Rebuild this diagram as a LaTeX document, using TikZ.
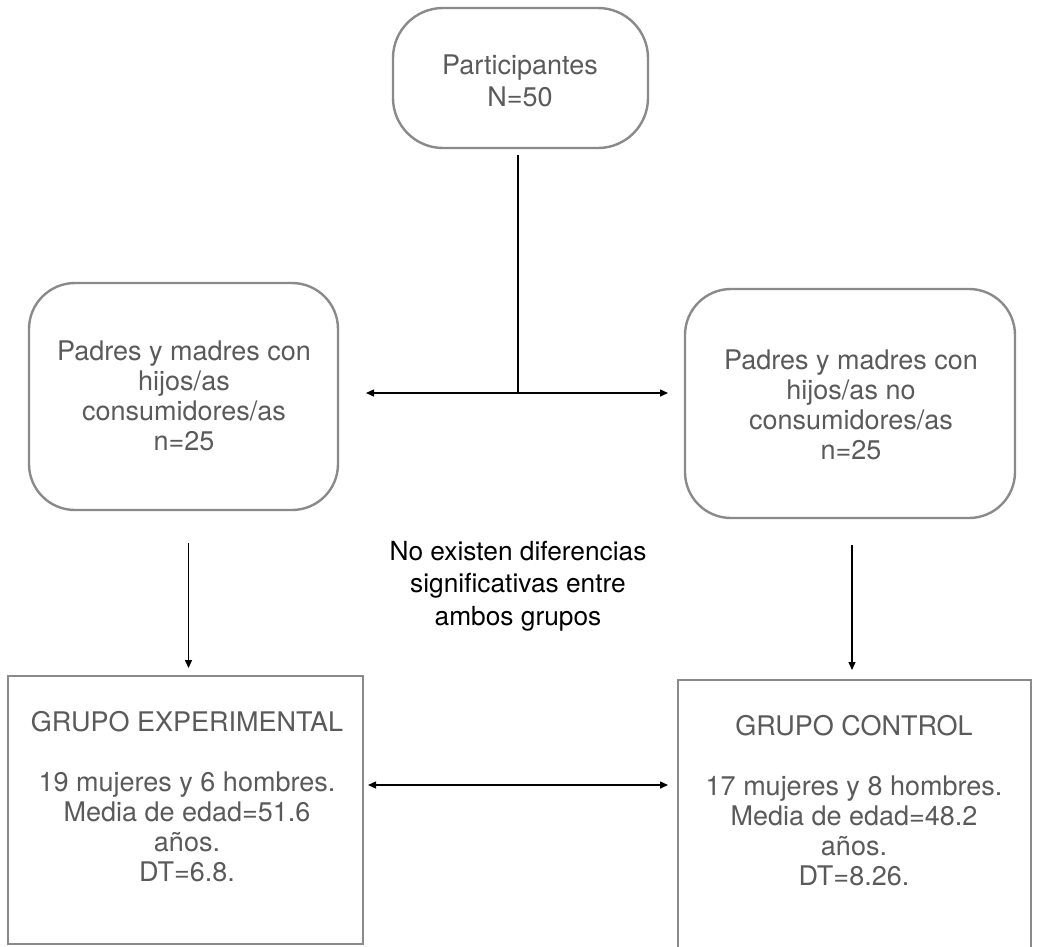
\documentclass[tikz,border=0pt]{standalone}
\usepackage{fontspec}
\setmainfont{TeX Gyre Heros}
\usetikzlibrary{arrows.meta}
\definecolor{boxline}{HTML}{8A8A8A}
\definecolor{boxtext}{HTML}{5A5A5A}
\begin{document}
\begin{tikzpicture}[x=1pt,y=-1pt,
  every node/.style={inner sep=0pt, outer sep=0pt},
  roundbox/.style={draw=boxline, line width=2.4pt, rounded corners=46pt, fill=white},
  sqbox/.style={draw=boxline, line width=2.4pt, fill=white},
  graytext/.style={text=boxtext, align=center, font=\fontsize{27}{30}\selectfont},
  blacktext/.style={text=black, align=center, font=\fontsize{26.3}{32.5}\selectfont},
  link/.style={line width=1.4pt, draw=black},
  arr/.style={link, -{Triangle[length=8pt,width=7pt]}},
  biarr/.style={link, {Triangle[length=8pt,width=7pt]}-{Triangle[length=8pt,width=7pt]}}]
  \useasboundingbox (0,0) rectangle (1037,946);

  % boxes
  \node[roundbox, rounded corners=50pt, minimum width=255pt, minimum height=140pt] (top) at (520.5,78) {};
  \node[roundbox, minimum width=309pt, minimum height=227pt] (lbox) at (183.5,396.5) {};
  \node[roundbox, minimum width=330pt, minimum height=229pt] (rbox) at (850,403.5) {};
  \node[sqbox, minimum width=355pt, minimum height=268pt] (ebox) at (185.5,810) {};
  \node[sqbox, minimum width=353pt, minimum height=280pt] (cbox) at (854.5,820) {};

  % texts
  \node[graytext, font=\fontsize{27}{32}\selectfont] (toptxt) at (520,81) {Participantes\\N=50};
  \node[graytext] (ltxt) at (184,396) {Padres y madres con\\hijos/as\\consumidores/as\\n=25};
  \node[graytext] (rtxt) at (851,405) {Padres y madres con\\hijos/as no\\consumidores/as\\n=25};
  \node[graytext] (etxt) at (187,797) {GRUPO EXPERIMENTAL\\[30pt]19 mujeres y 6 hombres.\\Media de edad=51.6\\años.\\DT=6.8.};
  \node[graytext] (ctxt) at (854,801) {GRUPO CONTROL\\[30pt]17 mujeres y 8 hombres.\\Media de edad=48.2\\años.\\DT=8.26.};
  \node[blacktext] (note) at (518,586) {No existen diferencias\\significativas entre\\ambos grupos};

  % connectors
  \coordinate (split) at (518,393);
  \coordinate (hl) at (366,393);
  \coordinate (hr) at (668,393);
  \coordinate (ldown) at (188.5,543);
  \coordinate (rdown) at (852,545);
  \coordinate (bl) at (368,785);
  \coordinate (br) at (668,785);

  \draw[link] ([yshift=-7pt]top.south -| split) -- (split);
  \draw[biarr] (hl) -- (hr);
  \draw[arr, shorten >=8pt] (ldown) -- (ldown |- ebox.north);
  \draw[arr, shorten >=10pt] (rdown) -- (rdown |- cbox.north);
  \draw[biarr] (bl) -- (br);
\end{tikzpicture}
\end{document}
